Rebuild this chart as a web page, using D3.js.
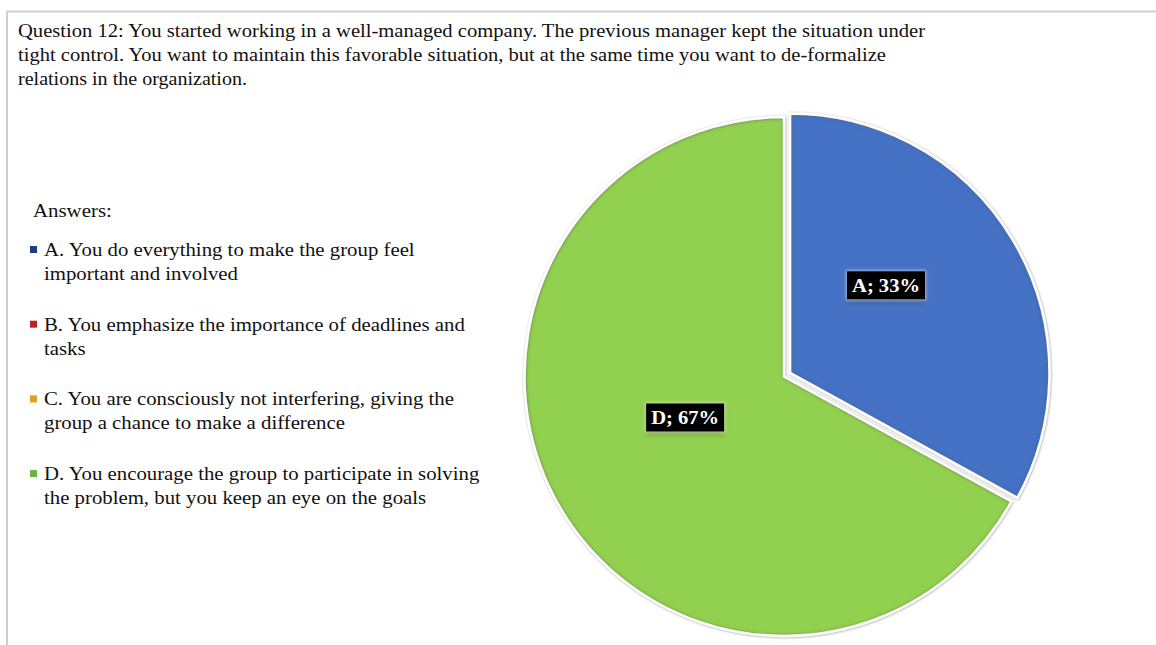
<!DOCTYPE html>
<html>
<head>
<meta charset="utf-8">
<script src="https://cdn.jsdelivr.net/npm/d3@7"></script>
<style>
  html, body { margin: 0; padding: 0; background: #fff; }
  svg { display: block; }
</style>
</head>
<body>
<svg id="chart" width="1156" height="645"></svg>
<script>
// ---- data ----
const titleLines = [
  "Question 12: You started working in a well-managed company. The previous manager kept the situation under",
  "tight control. You want to maintain this favorable situation, but at the same time you want to de-formalize",
  "relations in the organization."
];
const legendTitle = "Answers:";
const categories = ["A", "B", "C", "D"];
const answerLines = [
  ["A. You do everything to make the group feel", "important and involved"],
  ["B. You emphasize the importance of deadlines and", "tasks"],
  ["C. You are consciously not interfering, giving the", "group a chance to make a difference"],
  ["D. You encourage the group to participate in solving", "the problem, but you keep an eye on the goals"]
];
const shares = [33, 0, 0, 67];
const sliceColors = ["#4472C4", "#C0504D", "#F0A830", "#92D050"];
const markerColors = ["#1F3C88", "#C0202A", "#E0A020", "#6CB43C"];

// ---- layout ----
const svg = d3.select("#chart");
const W = 1156, H = 645;
const defs = svg.append("defs");

// horizontal stretch helper (reference text is rendered wider than the font's natural width)
function stretch(sel, factor) {
  sel.each(function () {
    const w = this.getComputedTextLength();
    d3.select(this).attr("textLength", w * factor).attr("lengthAdjust", "spacingAndGlyphs");
  });
}

// inner shadow for slices
const inner = defs.append("filter").attr("id", "innerShadow")
  .attr("x", "-10%").attr("y", "-10%").attr("width", "120%").attr("height", "120%");
inner.append("feFlood").attr("flood-color", "#000").attr("flood-opacity", 0.5).attr("result", "flood");
inner.append("feComposite").attr("in", "flood").attr("in2", "SourceAlpha").attr("operator", "out").attr("result", "inverse");
inner.append("feGaussianBlur").attr("in", "inverse").attr("stdDeviation", 2.4).attr("result", "blur");
inner.append("feComposite").attr("in", "blur").attr("in2", "SourceAlpha").attr("operator", "in").attr("result", "shadow");
const im = inner.append("feMerge");
im.append("feMergeNode").attr("in", "SourceGraphic");
im.append("feMergeNode").attr("in", "shadow");

// soft outline shadow for white strokes
const outl = defs.append("filter").attr("id", "outline")
  .attr("x", "-10%").attr("y", "-10%").attr("width", "120%").attr("height", "120%");
outl.append("feDropShadow").attr("dx", 0.5).attr("dy", 0.5).attr("stdDeviation", 0.8)
  .attr("flood-color", "#777").attr("flood-opacity", 0.7);

// label box glow/shadow
const lf = defs.append("filter").attr("id", "labelFx")
  .attr("x", "-30%").attr("y", "-40%").attr("width", "160%").attr("height", "200%");
lf.append("feDropShadow").attr("dx", 0).attr("dy", 3).attr("stdDeviation", 2)
  .attr("flood-color", "#000").attr("flood-opacity", 0.35).attr("result", "ds");
lf.append("feMorphology").attr("in", "SourceAlpha").attr("operator", "dilate").attr("radius", 1).attr("result", "dil");
lf.append("feGaussianBlur").attr("in", "dil").attr("stdDeviation", 1.5).attr("result", "gb");
lf.append("feFlood").attr("flood-color", "#ffffff").attr("flood-opacity", 0.5).attr("result", "gc");
lf.append("feComposite").attr("in", "gc").attr("in2", "gb").attr("operator", "in").attr("result", "glow");
const lm = lf.append("feMerge");
lm.append("feMergeNode").attr("in", "glow");
lm.append("feMergeNode").attr("in", "ds");
lm.append("feMergeNode").attr("in", "SourceGraphic");

// frame
svg.append("line").attr("x1", 6).attr("x2", W).attr("y1", 11.5).attr("y2", 11.5)
  .attr("stroke", "#cfcfcf").attr("stroke-width", 2);
svg.append("line").attr("x1", 7).attr("x2", 7).attr("y1", 11).attr("y2", H)
  .attr("stroke", "#cfcfcf").attr("stroke-width", 2);

const serif = "'Liberation Serif', 'Times New Roman', serif";

// title
const titleWidths = [907, 868, 229];
const tg = svg.append("g").attr("font-family", serif).attr("font-size", 19).attr("fill", "#111");
titleLines.forEach((t, i) => {
  tg.append("text").attr("x", 18).attr("y", 37 + i * 24).text(t)
    .attr("textLength", titleWidths[i]).attr("lengthAdjust", "spacingAndGlyphs");
});

// legend
const lg = svg.append("g").attr("font-family", serif).attr("font-size", 19.5).attr("fill", "#111");
lg.append("text").attr("x", 33).attr("y", 217).text(legendTitle).call(stretch, 1.07);
categories.forEach((c, i) => {
  const y0 = 256 + i * 74.7;
  lg.append("rect").attr("x", 30).attr("y", y0 - 10).attr("width", 7).attr("height", 7)
    .attr("fill", markerColors[i]);
  answerLines[i].forEach((ln, j) => {
    lg.append("text").attr("x", 44).attr("y", y0 + j * 24).text(ln).call(stretch, 1.066);
  });
});

// pie
const cx = 784, cy = 376.5, R = 259.5;
const pieData = categories.map((c, i) => ({ cat: c, value: shares[i], color: sliceColors[i] }));
const pie = d3.pie().value(d => d.value).sort(null);
const arcs = pie(pieData).filter(d => d.data.value > 0);
const arc = d3.arc().innerRadius(0).outerRadius(R);
const explode = { A: 7, D: 0 };

const pg = svg.append("g").attr("transform", `translate(${cx},${cy})`);
const sl = pg.selectAll("g.slice").data(arcs).join("g").attr("class", "slice")
  .attr("transform", d => {
    const m = (d.startAngle + d.endAngle) / 2, e = explode[d.data.cat] || 0;
    return `translate(${Math.sin(m) * e},${-Math.cos(m) * e})`;
  });
// draw D first, then A on top
sl.sort((a, b) => (a.data.cat === "D" ? -1 : 1));
sl.append("path").attr("d", arc).attr("fill", d => d.data.color).attr("filter", "url(#innerShadow)");
sl.append("path").attr("d", arc).attr("fill", "none").attr("stroke", "#fff")
  .attr("stroke-width", 2.5).attr("stroke-linejoin", "miter").attr("filter", "url(#outline)");

// data labels (Excel best-fit positions, relative to slice)
const labelPos = { A: { r: 130, a: 47.6 }, D: { r: 107, a: 247.5 } };
sl.each(function (d) {
  const p = labelPos[d.data.cat];
  const a = p.a * Math.PI / 180;
  const x = Math.sin(a) * p.r, y = -Math.cos(a) * p.r;
  const g = d3.select(this).append("g").attr("transform", `translate(${x},${y})`);
  const txt = `${d.data.cat}; ${d.data.value}%`;
  g.append("rect").attr("x", -39).attr("y", -14).attr("width", 78).attr("height", 28)
    .attr("fill", "#000").attr("filter", "url(#labelFx)");
  g.append("text").attr("x", -34).attr("y", 6.5)
    .attr("font-family", serif).attr("font-weight", "bold").attr("font-size", 18)
    .attr("fill", "#fff").attr("textLength", 68).attr("lengthAdjust", "spacingAndGlyphs").text(txt);
});
</script>
</body>
</html>
